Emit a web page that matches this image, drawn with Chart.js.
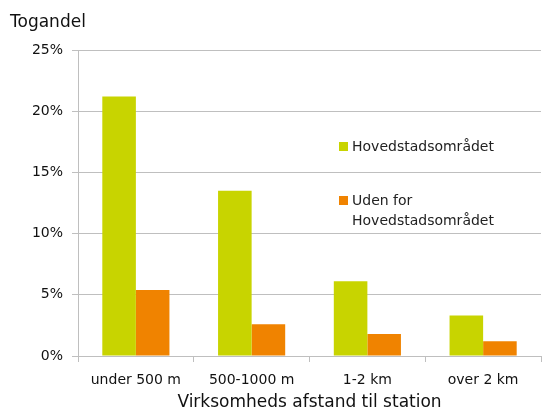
<!DOCTYPE html>
<html>
<head>
<meta charset="utf-8">
<script src="https://cdn.jsdelivr.net/npm/chart.js@4"></script>
<style>
  body { margin: 0; background: #fff; }
  #wrap { width: 542px; height: 410px; }
</style>
</head>
<body>
<div id="wrap"><canvas id="chart"></canvas></div>
<script>
const categories = ['under 500 m', '500-1000 m', '1-2 km', 'over 2 km'];
const seriesNames = ['Hovedstadsområdet', 'Uden for|Hovedstadsområdet'];
const hovedstad = [21.2, 13.5, 6.1, 3.3];
const udenFor = [5.4, 2.6, 1.8, 1.2];
const yTicks = [0, 5, 10, 15, 20, 25];
const yTitle = 'Togandel';

const FONT = 'DejaVu Sans, Verdana, sans-serif';

// legend drawn inside the plot, next to the bars, plus the y title at top left
const extras = {
    id: 'extras',
    afterDraw(chart) {
        const ctx = chart.ctx;
        const spots = [147, 201];
        ctx.save();
        ctx.textBaseline = 'middle';
        ctx.font = '17px ' + FONT;
        ctx.fillStyle = '#111';
        ctx.fillText(yTitle, 10, 23);
        ctx.font = '14px ' + FONT;
        chart.data.datasets.forEach((ds, i) => {
            const y = spots[i];
            ctx.fillStyle = ds.backgroundColor;
            ctx.fillRect(339, y - 5, 9, 9);
            ctx.fillStyle = '#222';
            ds.label.split('|').forEach((line, j) => {
                ctx.fillText(line, 352, y + j * 20);
            });
        });
        ctx.restore();
    }
};

new Chart(document.getElementById('chart'), {
    type: 'bar',
    data: {
        labels: categories,
        datasets: [
            { label: seriesNames[0], data: hovedstad, backgroundColor: '#c8d400' },
            { label: seriesNames[1], data: udenFor, backgroundColor: '#f08300' }
        ]
    },
    options: {
        responsive: true,
        maintainAspectRatio: false,
        animation: false,
        datasets: { bar: { barPercentage: 1, categoryPercentage: 0.58 } },
        layout: { padding: { left: 0, right: 1, top: 50, bottom: 0 } },
        plugins: {
            legend: { display: false },
            tooltip: { enabled: false }
        },
        scales: {
            x: {
                afterFit(axis) { axis.height = 54; },
                grid: { offset: true, drawOnChartArea: false, color: '#bfbfbf', tickLength: 6 },
                border: { color: '#bfbfbf' },
                ticks: { color: '#111', font: { family: FONT, size: 14 }, padding: 10 },
                title: {
                    display: true,
                    text: 'Virksomheds afstand til station',
                    color: '#111',
                    font: { family: FONT, size: 17 },
                    padding: { top: 0, bottom: -3 }
                }
            },
            y: {
                min: 0,
                max: 25,
                afterBuildTicks(axis) { axis.ticks = yTicks.map(v => ({ value: v })); },
                afterFit(axis) { axis.width = 78; },
                grid: { color: '#bfbfbf', tickLength: 6 },
                border: { color: '#bfbfbf' },
                ticks: {
                    color: '#111',
                    font: { family: FONT, size: 14 },
                    padding: 9,
                    callback: v => v + '%'
                }
            }
        }
    },
    plugins: [extras]
});
</script>
</body>
</html>
